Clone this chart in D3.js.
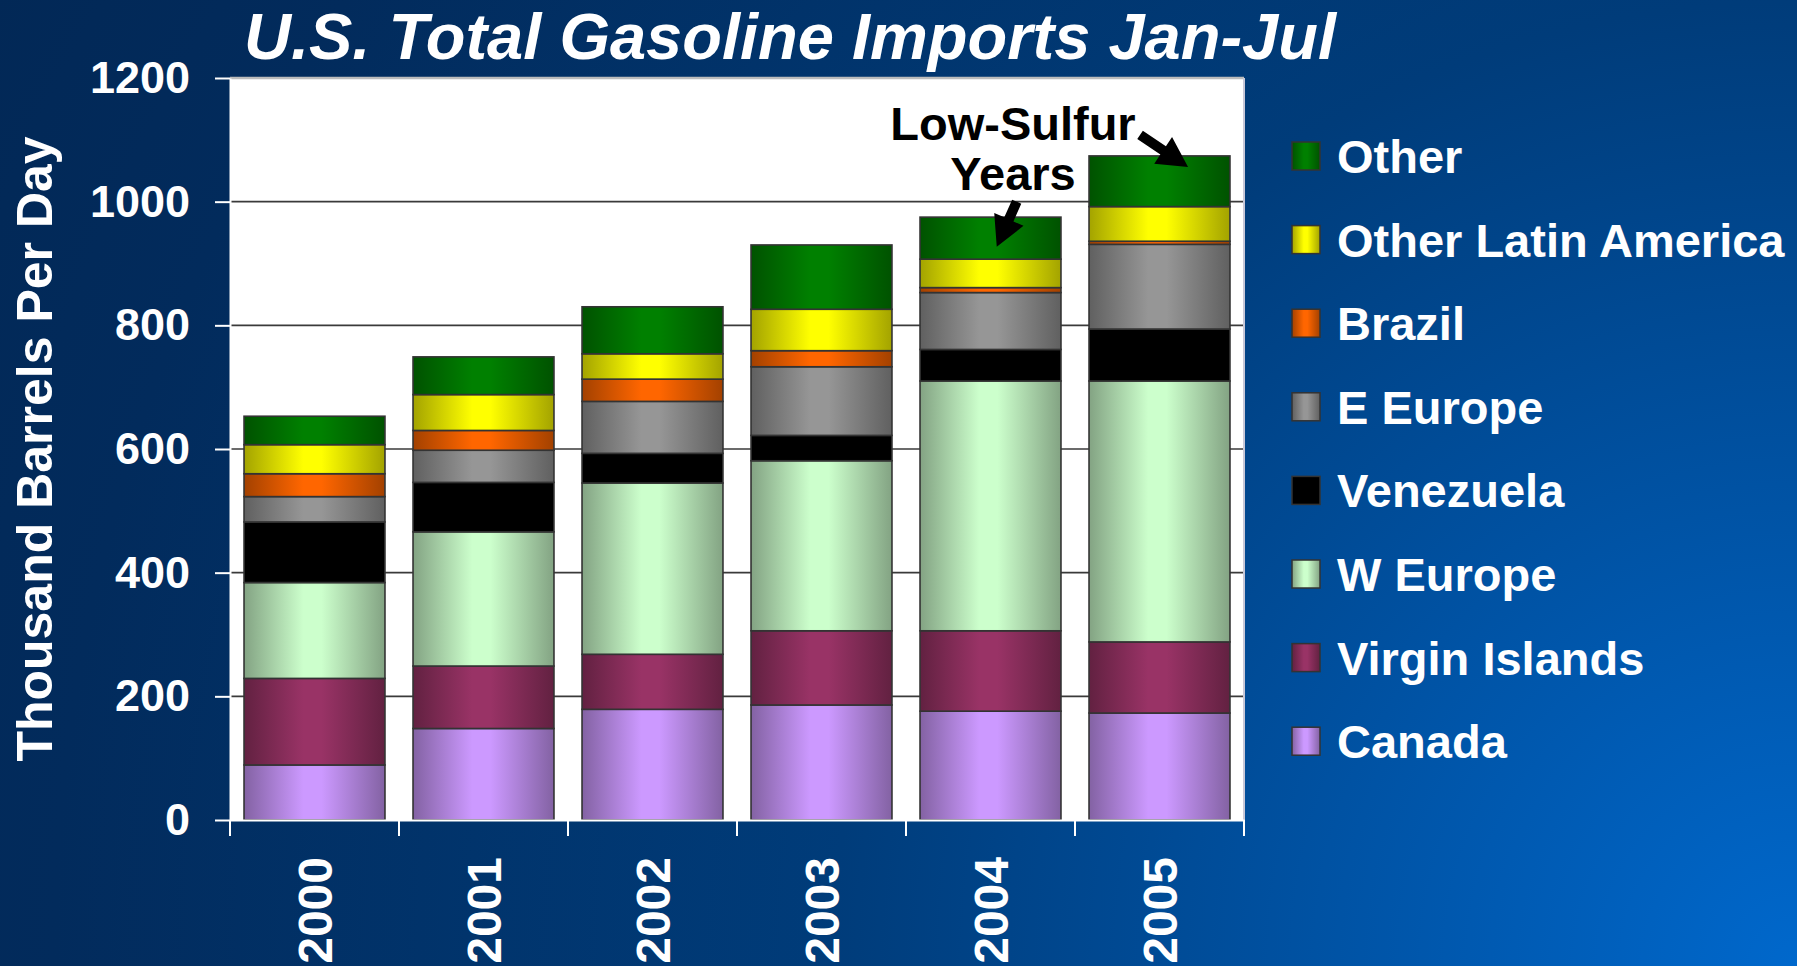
<!DOCTYPE html>
<html>
<head>
<meta charset="utf-8">
<script src="https://cdn.jsdelivr.net/npm/d3@7"></script>
<style>
  html, body { margin: 0; padding: 0; overflow: hidden; background: #022a5a; }
  svg { display: block; }
  text { font-family: "Liberation Sans", Arial, sans-serif; font-weight: bold; }
</style>
</head>
<body>
<div id="chart"></div>
<script>
// data (thousand barrels per day, Jan-Jul)
const years = ["2000", "2001", "2002", "2003", "2004", "2005"];
const canada = [89, 148, 179, 186, 176, 173];
const virginIslands = [140, 101, 89, 120, 130, 115];
const wEurope = [155, 217, 277, 275, 404, 422];
const venezuela = [98, 80, 48, 41, 51, 84];
const eEurope = [41, 52, 84, 111, 92, 137];
const brazil = [37, 32, 36, 26, 8, 5];
const otherLatinAmerica = [47, 58, 41, 67, 46, 56];
const other = [46, 61, 76, 104, 68, 82];
const yTicks = [0, 200, 400, 600, 800, 1000, 1200];

// bottom to top
const seriesNames = ["Canada", "Virgin Islands", "W Europe", "Venezuela", "E Europe", "Brazil", "Other Latin America", "Other"];
const seriesValues = [canada, virginIslands, wEurope, venezuela, eEurope, brazil, otherLatinAmerica, other];
const seriesColors = ["#cc99ff", "#993366", "#ccffcc", "#000000", "#969696", "#ff6600", "#ffff00", "#008000"];

const width = 1797, height = 966;
const plotL = 230, plotR = 1244, plotT = 78, plotB = 820;

const table = years.map((yr, i) => {
  const row = { year: yr };
  seriesNames.forEach((n, k) => row[n] = seriesValues[k][i]);
  return row;
});
const stacked = d3.stack().keys(seriesNames)(table);

const x = d3.scaleBand().domain(years).range([plotL, plotR]);
const y = d3.scaleLinear().domain([0, 1200]).range([plotB, plotT]);
const barW = x.bandwidth() * 0.834;
const barOff = (x.bandwidth() - barW) / 2;

const svg = d3.select("#chart").append("svg")
  .attr("width", width)
  .attr("height", height);

const defs = svg.append("defs");
const bg = defs.append("radialGradient")
  .attr("id", "bg")
  .attr("gradientUnits", "userSpaceOnUse")
  .attr("cx", width).attr("cy", height).attr("r", 2050);
bg.append("stop").attr("offset", 0).attr("stop-color", "#0068cc");
bg.append("stop").attr("offset", 0.47).attr("stop-color", "#003c7a");
bg.append("stop").attr("offset", 0.85).attr("stop-color", "#022b5c");
bg.append("stop").attr("offset", 1).attr("stop-color", "#022856");

seriesColors.forEach((c, i) => {
  const g = defs.append("linearGradient").attr("id", "g" + i)
    .attr("x1", 0).attr("x2", 1).attr("y1", 0).attr("y2", 0);
  const dark = d3.rgb(c).darker(1.25);
  g.append("stop").attr("offset", 0).attr("stop-color", dark);
  g.append("stop").attr("offset", 0.42).attr("stop-color", c);
  g.append("stop").attr("offset", 0.55).attr("stop-color", c);
  g.append("stop").attr("offset", 1).attr("stop-color", dark);
});

svg.append("rect").attr("width", width).attr("height", height).attr("fill", "url(#bg)");

// plot area
svg.append("rect")
  .attr("x", plotL).attr("y", plotT)
  .attr("width", plotR - plotL).attr("height", plotB - plotT)
  .attr("fill", "#fff");

svg.append("g")
  .selectAll("line")
  .data(yTicks.filter(d => d > 0 && d < 1200))
  .join("line")
  .attr("x1", plotL).attr("x2", plotR)
  .attr("y1", d => y(d)).attr("y2", d => y(d))
  .attr("stroke", "#3a3a3a").attr("stroke-width", 1.6);

svg.append("line")
  .attr("x1", plotL).attr("x2", plotR).attr("y1", y(1200)).attr("y2", y(1200))
  .attr("stroke", "#bcbcbc").attr("stroke-width", 2.5);
svg.append("line")
  .attr("x1", plotR).attr("x2", plotR).attr("y1", y(1200)).attr("y2", plotB)
  .attr("stroke", "#c8c8d8").attr("stroke-width", 2);

// bars
svg.append("g")
  .selectAll("g")
  .data(stacked)
  .join("g")
  .attr("fill", (d, i) => `url(#g${i})`)
  .selectAll("rect")
  .data(d => d)
  .join("rect")
  .attr("x", d => x(d.data.year) + barOff)
  .attr("width", barW)
  .attr("y", d => y(d[1]))
  .attr("height", d => y(d[0]) - y(d[1]))
  .attr("stroke", "#333")
  .attr("stroke-width", 1.6);

// y axis
const yAxis = svg.append("g")
  .attr("transform", `translate(${plotL},0)`)
  .call(d3.axisLeft(y).tickValues(yTicks).tickFormat(d3.format("d"))
    .tickSize(15).tickSizeOuter(0).tickPadding(25));
yAxis.selectAll("line, path").attr("stroke", "#fff").attr("stroke-width", 2);
yAxis.selectAll("text")
  .attr("fill", "#fff")
  .style("font-size", "45px")
  .style("font-family", "'Liberation Sans', Arial, sans-serif")
  .style("font-weight", "bold");

// x axis
const xAxis = svg.append("g")
  .attr("transform", `translate(0,${plotB})`)
  .call(d3.axisBottom(x).tickSize(0).tickFormat(""));
xAxis.select("path").attr("stroke", "#fff").attr("stroke-width", 2);
xAxis.selectAll(".tick").remove();

svg.append("g")
  .selectAll("line")
  .data(years.map(d => x(d)).concat([plotR]))
  .join("line")
  .attr("x1", d => d).attr("x2", d => d)
  .attr("y1", plotB).attr("y2", plotB + 16)
  .attr("stroke", "#fff").attr("stroke-width", 2);

svg.append("g")
  .selectAll("text")
  .data(years)
  .join("text")
  .attr("transform", d => `translate(${x(d) + x.bandwidth() / 2},857) rotate(-90)`)
  .attr("text-anchor", "end")
  .attr("dy", "0.36em")
  .attr("fill", "#fff")
  .style("font-size", "48px")
  .text(d => d);

// axis title
svg.append("text")
  .attr("transform", `translate(34,${(plotT + plotB) / 2}) rotate(-90)`)
  .attr("text-anchor", "middle")
  .attr("dy", "0.36em")
  .attr("fill", "#fff")
  .style("font-size", "50px")
  .text("Thousand Barrels Per Day");

// title
svg.append("text")
  .attr("x", 244).attr("y", 59)
  .attr("fill", "#fff")
  .style("font-size", "65px")
  .style("font-style", "italic")
  .text("U.S. Total Gasoline Imports Jan-Jul");

// legend
const legend = svg.append("g")
  .selectAll("g")
  .data(seriesNames.map((n, i) => ({ name: n, i })).reverse())
  .join("g")
  .attr("transform", (d, k) => `translate(1292,${156 + k * 83.6})`);
legend.append("rect")
  .attr("x", 0).attr("y", -14).attr("width", 28).attr("height", 28)
  .attr("fill", d => `url(#g${d.i})`)
  .attr("stroke", "#333").attr("stroke-width", 1.5);
legend.append("text")
  .attr("x", 45).attr("dy", "0.36em")
  .attr("fill", "#fff")
  .style("font-size", "47px")
  .text(d => d.name);

// annotation
const annoText = [
  { text: "Low-Sulfur", year: "2004", frac: 0.633, value: 1100 },
  { text: "Years", year: "2004", frac: 0.633, value: 1019 }
];
const arrows = [
  { from: ["2005", 0.385, 1108], to: ["2005", 0.669, 1056] },
  { from: ["2004", 0.655, 1000], to: ["2004", 0.537, 927] }
];
const px = p => [x(p[0]) + p[1] * x.bandwidth(), y(p[2])];

svg.append("g")
  .selectAll("text")
  .data(annoText)
  .join("text")
  .attr("x", d => x(d.year) + d.frac * x.bandwidth())
  .attr("y", d => y(d.value))
  .attr("text-anchor", "middle")
  .attr("fill", "#000")
  .style("font-size", "47px")
  .text(d => d.text);

function arrowPath(a) {
  const [x0, y0] = px(a.from), [x1, y1] = px(a.to);
  const dx = x1 - x0, dy = y1 - y0, len = Math.hypot(dx, dy);
  const ux = dx / len, uy = dy / len, nx = -uy, ny = ux;
  const head = 30, hw = 16, sw = 5;
  const bx = x1 - ux * head, by = y1 - uy * head;
  const pts = [
    [x0 + nx * sw, y0 + ny * sw],
    [bx + nx * sw, by + ny * sw],
    [bx + nx * hw, by + ny * hw],
    [x1, y1],
    [bx - nx * hw, by - ny * hw],
    [bx - nx * sw, by - ny * sw],
    [x0 - nx * sw, y0 - ny * sw]
  ];
  return d3.line()(pts) + "Z";
}
svg.append("g")
  .selectAll("path")
  .data(arrows)
  .join("path")
  .attr("d", arrowPath)
  .attr("fill", "#000");
</script>
</body>
</html>
